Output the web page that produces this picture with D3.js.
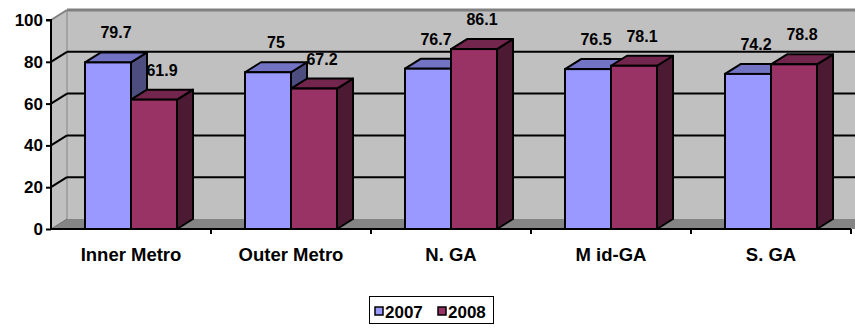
<!DOCTYPE html>
<html>
<head>
<meta charset="utf-8">
<script src="https://cdn.jsdelivr.net/npm/d3@7"></script>
<style>
  body { margin: 0; background: #fff; }
  text { font-family: "Liberation Sans", Arial, sans-serif; font-weight: bold; fill: #000; }
</style>
</head>
<body>
<svg id="chart" width="855" height="328"></svg>
<script>
const categories = ['Inner Metro', 'Outer Metro', 'N. GA', 'M id-GA', 'S. GA']
const seriesNames = ['2007', '2008']
const values2007 = [79.7, 75, 76.7, 76.5, 74.2]
const values2008 = [61.9, 67.2, 86.1, 78.1, 78.8]
const yTicks = [0, 20, 40, 60, 80, 100]

const colors = {
    '2007': { front: '#9999ff', top: '#7373c4', side: '#4d4d80' },
    '2008': { front: '#993366', top: '#73264d', side: '#4d1a33' }
}

// depth of the 3d box
const dx = 16
const dy = -10

let svg = d3.select('#chart')

let x0 = d3.scaleBand()
    .domain(categories)
    .range([51, 851])

let x1 = d3.scaleBand()
    .domain(seriesNames)
    .range([34, 126])

let y = d3.scaleLinear()
    .domain([0, 100])
    .range([229, 20])

// back wall
svg.append('rect')
    .attr('x', 51 + dx).attr('y', y(100) + dy)
    .attr('width', 855 - 51 - dx).attr('height', y(0) - y(100))
    .attr('fill', '#c0c0c0')

// left wall
svg.append('polygon')
    .attr('points', [[51, y(100)], [51 + dx, y(100) + dy], [51 + dx, y(0) + dy], [51, y(0)]].join(' '))
    .attr('fill', '#c0c0c0')
svg.append('line')
    .attr('x1', 51 + dx).attr('x2', 51 + dx)
    .attr('y1', y(100) + dy).attr('y2', y(0) + dy)
    .attr('stroke', '#9a9a9a').attr('stroke-width', 1.5)

// floor
svg.append('polygon')
    .attr('points', [[51, y(0)], [51 + dx, y(0) + dy], [855, y(0) + dy], [855, y(0)]].join(' '))
    .attr('fill', '#858585')

// gridlines on the walls
yTicks.filter(t => t > 0).forEach(t => {
    let c = t === 100 ? '#808080' : '#000'
    let w = t === 100 ? 3 : 2
    svg.append('line')
        .attr('x1', 51 + dx).attr('x2', 855)
        .attr('y1', y(t) + dy).attr('y2', y(t) + dy)
        .attr('stroke', c).attr('stroke-width', w)
    svg.append('line')
        .attr('x1', 51).attr('x2', 51 + dx)
        .attr('y1', y(t)).attr('y2', y(t) + dy)
        .attr('stroke', c).attr('stroke-width', 2)
})
svg.append('line')
    .attr('x1', 51).attr('x2', 51 + dx)
    .attr('y1', y(0)).attr('y2', y(0) + dy)
    .attr('stroke', '#6e6e6e').attr('stroke-width', 1)

// bars
let rows = []
categories.forEach((c, i) => {
    rows.push({ cat: c, s: '2007', v: values2007[i] })
    rows.push({ cat: c, s: '2008', v: values2008[i] })
})

let bars = svg.selectAll('g.bar')
    .data(rows)
    .enter()
    .append('g')
    .attr('class', 'bar')

bars.each(function (d) {
    let g = d3.select(this)
    let xl = x0(d.cat) + x1(d.s)
    let xr = xl + x1.bandwidth()
    let yt = y(d.v)
    let yb = y(0)
    let col = colors[d.s]
    // side face
    g.append('polygon')
        .attr('points', [[xr, yt], [xr + dx, yt + dy], [xr + dx, yb + dy], [xr, yb]].join(' '))
        .attr('fill', col.side).attr('stroke', '#000').attr('stroke-width', 2)
        .attr('stroke-linejoin', 'round')
    // top face
    g.append('polygon')
        .attr('points', [[xl, yt], [xl + dx, yt + dy], [xr + dx, yt + dy], [xr, yt]].join(' '))
        .attr('fill', col.top).attr('stroke', '#000').attr('stroke-width', 2)
        .attr('stroke-linejoin', 'round')
    // front face
    g.append('rect')
        .attr('x', xl).attr('y', yt)
        .attr('width', xr - xl).attr('height', yb - yt)
        .attr('fill', col.front).attr('stroke', '#000').attr('stroke-width', 2)
})

// value labels
svg.selectAll('text.value')
    .data(rows)
    .enter()
    .append('text')
    .attr('class', 'value')
    .attr('x', d => x0(d.cat) + x1(d.s) + x1.bandwidth() / 2 + 8)
    .attr('y', d => y(d.v) + dy - 14)
    .attr('text-anchor', 'middle')
    .style('font-size', '16px')
    .text(d => d.v)

// axes
let yAxis = d3.axisLeft(y).tickValues(yTicks).tickSize(5).tickPadding(3)
let yG = svg.append('g')
    .attr('transform', 'translate(51,0)')
    .call(yAxis)
yG.select('.domain').attr('stroke', '#000').attr('stroke-width', 2)
    .attr('d', 'M-5,' + y(100) + 'H0V' + (y(0) + 1))
yG.selectAll('.tick line').attr('stroke', '#000').attr('stroke-width', 2)
yG.selectAll('.tick text')
    .style('font-size', '17px')
    .style('font-family', '"Liberation Sans", Arial, sans-serif')
    .style('font-weight', 'bold')
    .attr('fill', '#000')

let xAxis = d3.axisBottom(x0).tickSize(0).tickPadding(19)
let xG = svg.append('g')
    .attr('transform', 'translate(0,' + y(0) + ')')
    .call(xAxis)
xG.select('.domain').attr('stroke', '#000').attr('stroke-width', 2)
    .attr('d', 'M51,0H851')
xG.selectAll('.tick text')
    .style('font-size', '18.5px')
    .style('font-family', '"Liberation Sans", Arial, sans-serif')
    .style('font-weight', 'bold')
    .attr('fill', '#000')
// boundary ticks between categories
categories.forEach((c, i) => {
    let xb = x0(c) + x0.bandwidth()
    xG.append('line')
        .attr('x1', xb).attr('x2', xb)
        .attr('y1', 0).attr('y2', 5)
        .attr('stroke', '#000').attr('stroke-width', 2)
})

// legend
let legend = svg.append('g').attr('transform', 'translate(369,296)')
legend.append('rect')
    .attr('x', 0.5).attr('y', 0.5)
    .attr('width', 124).attr('height', 27)
    .attr('fill', '#fff').attr('stroke', '#000').attr('stroke-width', 1)
seriesNames.forEach((s, i) => {
    let lx = 6 + i * 63
    legend.append('rect')
        .attr('x', lx).attr('y', 11)
        .attr('width', 8).attr('height', 8)
        .attr('fill', colors[s].front).attr('stroke', '#000').attr('stroke-width', 1.5)
    legend.append('text')
        .attr('x', lx + 10).attr('y', 22)
        .style('font-size', '17px')
        .text(s)
})
</script>
</body>
</html>
